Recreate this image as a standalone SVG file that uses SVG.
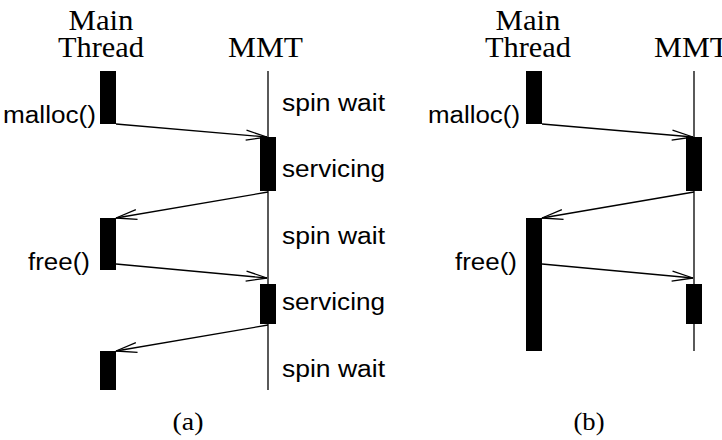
<svg xmlns="http://www.w3.org/2000/svg" width="722" height="440" viewBox="0 0 722 440">
  <style>
    .serif { font-family: "Liberation Serif", "Times New Roman", serif; font-size: 29px; fill: #000; }
    .cap { font-family: "Liberation Serif", "Times New Roman", serif; font-size: 25px; fill: #000; }
    .sans { font-family: "Liberation Sans", Arial, sans-serif; font-size: 23px; fill: #000; }
    .life { stroke: #000; stroke-width: 1.3; fill: none; }
    .act { fill: #000; }
    .msg { stroke: #000; stroke-width: 1.3; fill: none; marker-end: url(#open); }
  </style>
  <defs>
    <marker id="open" markerUnits="userSpaceOnUse" markerWidth="24" markerHeight="14" refX="0" refY="0" viewBox="-22 -7 24 14" orient="auto" overflow="visible">
      <path d="M -21 -5 L 0 0 L -21 5" fill="none" stroke="#000" stroke-width="1.3"/>
    </marker>
  </defs>
  <rect width="722" height="440" fill="#fff"/>

  <!-- Panel (a) -->
  <g id="a-main-thread">
    <text class="serif" x="101" y="30" text-anchor="middle" textLength="65" lengthAdjust="spacingAndGlyphs">Main</text>
    <text class="serif" x="101" y="57" text-anchor="middle" textLength="86" lengthAdjust="spacingAndGlyphs">Thread</text>
    <rect class="act" x="100" y="71" width="16" height="53"/>
    <rect class="act" x="100" y="218" width="16" height="52"/>
    <rect class="act" x="100" y="351" width="16" height="39"/>
    <text class="sans" x="3" y="123" textLength="93" lengthAdjust="spacingAndGlyphs">malloc()</text>
    <text class="sans" x="28" y="270" textLength="62" lengthAdjust="spacingAndGlyphs">free()</text>
  </g>
  <g id="a-mmt">
    <text class="serif" x="228" y="57" textLength="75" lengthAdjust="spacingAndGlyphs">MMT</text>
    <line class="life" x1="268" y1="71" x2="268" y2="390"/>
    <rect class="act" x="260" y="137" width="16" height="54"/>
    <rect class="act" x="260" y="284" width="16" height="40"/>
    <text class="sans" x="282" y="111" textLength="103" lengthAdjust="spacingAndGlyphs">spin wait</text>
    <text class="sans" x="282" y="177" textLength="103" lengthAdjust="spacingAndGlyphs">servicing</text>
    <text class="sans" x="282" y="244" textLength="103" lengthAdjust="spacingAndGlyphs">spin wait</text>
    <text class="sans" x="282" y="310" textLength="103" lengthAdjust="spacingAndGlyphs">servicing</text>
    <text class="sans" x="282" y="377" textLength="103" lengthAdjust="spacingAndGlyphs">spin wait</text>
  </g>
  <g id="a-caption">
    <text class="cap" x="188" y="430" text-anchor="middle" textLength="31" lengthAdjust="spacingAndGlyphs">(a)</text>
  </g>

  <!-- Panel (b) -->
  <g id="b-main-thread">
    <text class="serif" x="528" y="30" text-anchor="middle" textLength="65" lengthAdjust="spacingAndGlyphs">Main</text>
    <text class="serif" x="528" y="57" text-anchor="middle" textLength="86" lengthAdjust="spacingAndGlyphs">Thread</text>
    <rect class="act" x="526" y="71" width="16" height="53"/>
    <rect class="act" x="526" y="218" width="16" height="133"/>
    <text class="sans" x="428" y="123" textLength="92" lengthAdjust="spacingAndGlyphs">malloc()</text>
    <text class="sans" x="455" y="270" textLength="62" lengthAdjust="spacingAndGlyphs">free()</text>
  </g>
  <g id="b-mmt">
    <text class="serif" x="654" y="57" textLength="75" lengthAdjust="spacingAndGlyphs">MMT</text>
    <line class="life" x1="694" y1="71" x2="694" y2="351"/>
    <rect class="act" x="686" y="137" width="16" height="54"/>
    <rect class="act" x="686" y="284" width="16" height="40"/>
  </g>
  <g id="b-caption">
    <text class="cap" x="589" y="430" text-anchor="middle" textLength="31" lengthAdjust="spacingAndGlyphs">(b)</text>
  </g>

  <g id="connectors">
    <line class="msg" x1="116" y1="124" x2="267" y2="137"/>
    <line class="msg" x1="268" y1="192" x2="116" y2="218"/>
    <line class="msg" x1="116" y1="264" x2="267" y2="278"/>
    <line class="msg" x1="268" y1="325" x2="116" y2="351"/>
    <line class="msg" x1="542" y1="124" x2="693" y2="137"/>
    <line class="msg" x1="694" y1="192" x2="542" y2="218"/>
    <line class="msg" x1="542" y1="264" x2="693" y2="278"/>
  </g>
</svg>
